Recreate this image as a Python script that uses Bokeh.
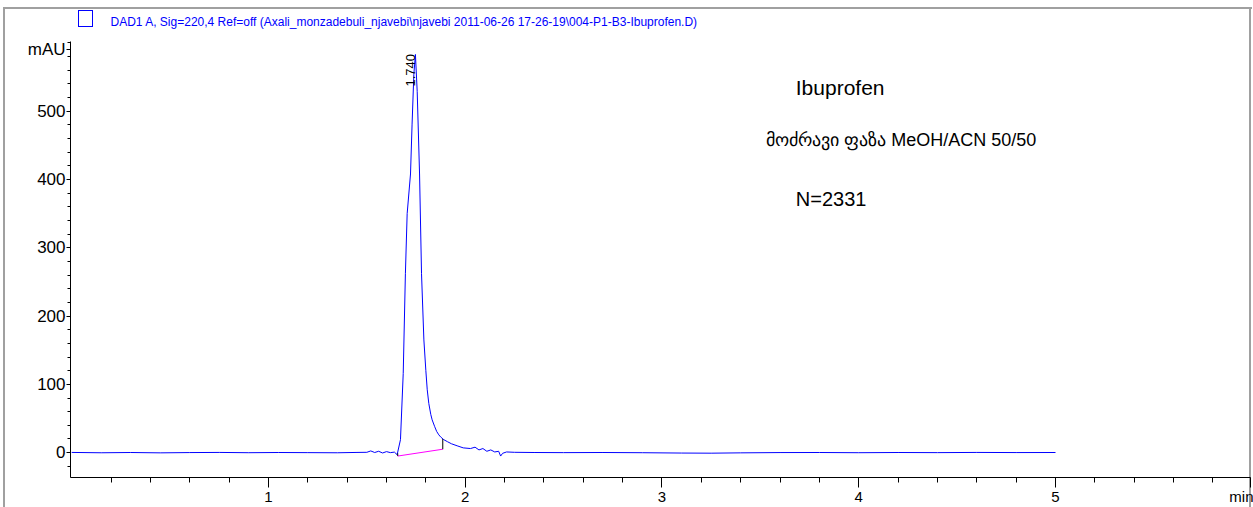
from bokeh.plotting import figure
from bokeh.models import Range1d, FixedTicker, Label
from bokeh.embed import file_html
from bokeh.resources import INLINE
import math

# ---- data ----
time_min = [0.00, 0.15, 0.30, 0.45, 0.60, 0.75, 0.90, 1.05, 1.20, 1.35, 1.45,
            1.50, 1.52, 1.54, 1.56, 1.58, 1.60, 1.62, 1.64, 1.654, 1.671, 1.685,
            1.696, 1.705, 1.722, 1.730, 1.739, 1.747, 1.756, 1.768, 1.778, 1.790,
            1.800, 1.807, 1.815, 1.825, 1.832, 1.845, 1.855, 1.866, 1.875, 1.891,
            1.91, 1.93, 1.959, 1.99, 2.027, 2.05, 2.07,
            2.09, 2.11, 2.13, 2.15, 2.17, 2.18, 2.19, 2.21, 2.25, 2.35, 2.5, 2.7,
            2.9, 3.1, 3.25, 3.4, 3.6, 3.8, 4.0, 4.2, 4.4, 4.6, 4.8, 5.0]
signal_mau = [0.3, -0.2, 0.2, -0.3, 0.1, 0.3, -0.1, 0.2, 0.0, -0.2, 0.3,
              0.5, 2.5, 0.2, 2.0, -0.5, 1.5, 0.0, 0.8, -3, 19, 116,
              262, 350, 408, 481, 554, 583, 529, 408, 262, 165,
              120, 92, 72, 56, 48, 38, 31, 26, 23, 19,
              16, 13, 10, 7, 6, 8, 4,
              6, 2, 4, 1, 2, -5, -1, 1, 0.5, 0.2, 0.0, 0.2,
              -0.1, -0.6, -0.8, -0.3, 0.1, 0.2, -0.1, 0.2, 0.0, 0.3, 0.1, 0.2]

baseline_t = [1.657, 1.886]
baseline_y = [-5, 5]
peak_rt = 1.740
peak_label = "1.740"

x_ticks = [1, 2, 3, 4, 5, 5.99]
x_labels = {1: "1", 2: "2", 3: "3", 4: "4", 5: "5", 5.99: "min"}
x_minor = [0.2, 0.4, 0.6, 0.8, 1.2, 1.4, 1.6, 1.8, 2.2, 2.4, 2.6, 2.8,
           3.2, 3.4, 3.6, 3.8, 4.2, 4.4, 4.6, 4.8, 5.2, 5.4, 5.6, 5.8]
y_ticks = [0, 100, 200, 300, 400, 500, 590]
y_labels = {0: "0", 100: "100", 200: "200", 300: "300", 400: "400", 500: "500", 590: "mAU"}
y_minor = [-20, 20, 40, 60, 80, 120, 140, 160, 180, 220, 240, 260, 280,
           320, 340, 360, 380, 420, 440, 460, 480, 520, 540, 560, 580, 600]

title_text = "DAD1 A, Sig=220,4 Ref=off (Axali_monzadebuli_njavebi\\njavebi 2011-06-26 17-26-19\\004-P1-B3-Ibuprofen.D)"
notes = ["Ibuprofen", "მოძრავი ფაზა MeOH/ACN 50/50", "N=2331"]

FONT = "Liberation Sans"

p = figure(width=1253, height=507, output_backend="svg", toolbar_location=None,
           x_range=Range1d(-0.006, 5.991), y_range=Range1d(-36.4, 602),
           min_border_left=70, min_border_right=3, min_border_top=40,
           min_border_bottom=29)
p.outline_line_color = None
p.xgrid.visible = False
p.ygrid.visible = False
p.background_fill_color = None
p.border_fill_color = None

# page frame (gray) and legend swatch (blue) drawn as the host background
G = "linear-gradient(#a0a0a0,#a0a0a0)"
B = "linear-gradient(#0000ff,#0000ff)"
p.styles = {
    "background": ", ".join([
        G + " 3px 7px / 1249px 2px no-repeat",
        G + " 3px 7px / 2px 500px no-repeat",
        G + " 1249px 7px / 2px 500px no-repeat",
        B + " 78px 10px / 15px 1px no-repeat",
        B + " 78px 26px / 15px 1px no-repeat",
        B + " 78px 10px / 1px 17px no-repeat",
        B + " 92px 10px / 1px 17px no-repeat",
        "white",
    ])
}

# title
p.title.text = title_text
p.title.align = "left"
p.title.offset = 40
p.title.standoff = 25
p.title.text_font = FONT
p.title.text_font_size = "12px"
p.title.text_font_style = "normal"
p.title.text_color = "#0000ff"

# axes
p.xaxis.ticker = FixedTicker(ticks=x_ticks, minor_ticks=x_minor)
p.yaxis.ticker = FixedTicker(ticks=y_ticks, minor_ticks=y_minor)
p.xaxis.major_label_overrides = x_labels
p.yaxis.major_label_overrides = y_labels
for ax in (p.xaxis, p.yaxis):
    ax.axis_line_color = "black"
    ax.major_tick_line_color = "black"
    ax.minor_tick_line_color = "black"
    ax.major_tick_in = 0
    ax.minor_tick_in = 0
    ax.major_label_text_font = FONT
    ax.major_label_text_color = "black"
p.yaxis.major_label_text_font_size = "17px"
p.xaxis.major_label_text_font_size = "15px"
p.xaxis.major_tick_out = 10
p.xaxis.minor_tick_out = 5
p.xaxis.major_label_standoff = 0
p.yaxis.major_tick_out = 4
p.yaxis.minor_tick_out = 3
p.yaxis.major_label_standoff = 1

# trace
p.line(time_min, signal_mau, line_color="#0000ff", line_width=1)
p.line(baseline_t, baseline_y, line_color="#ff00ff", line_width=1)
p.line([baseline_t[0], baseline_t[0]], [baseline_y[0], -1], line_color="black", line_width=1)
p.line([baseline_t[1], baseline_t[1]], [baseline_y[1], 20], line_color="black", line_width=1)

p.add_layout(Label(x=peak_rt + 0.006, y=536, text=peak_label, angle=math.pi / 2,
                   text_baseline="bottom", text_align="left",
                   text_font=FONT, text_font_size="13px", text_color="black"))

# annotations in the plot
p.add_layout(Label(x=3.68, y=535, text=notes[0], text_baseline="middle", text_align="left",
                   text_font=FONT, text_font_size="21px", text_color="black"))
p.add_layout(Label(x=3.53, y=458, text=notes[1], text_baseline="middle", text_align="left",
                   text_font=FONT, text_font_size="18px", text_color="black"))
p.add_layout(Label(x=3.68, y=372, text=notes[2], text_baseline="middle", text_align="left",
                   text_font=FONT, text_font_size="20px", text_color="black"))

open("out.html", "w").write(file_html(p, INLINE))
